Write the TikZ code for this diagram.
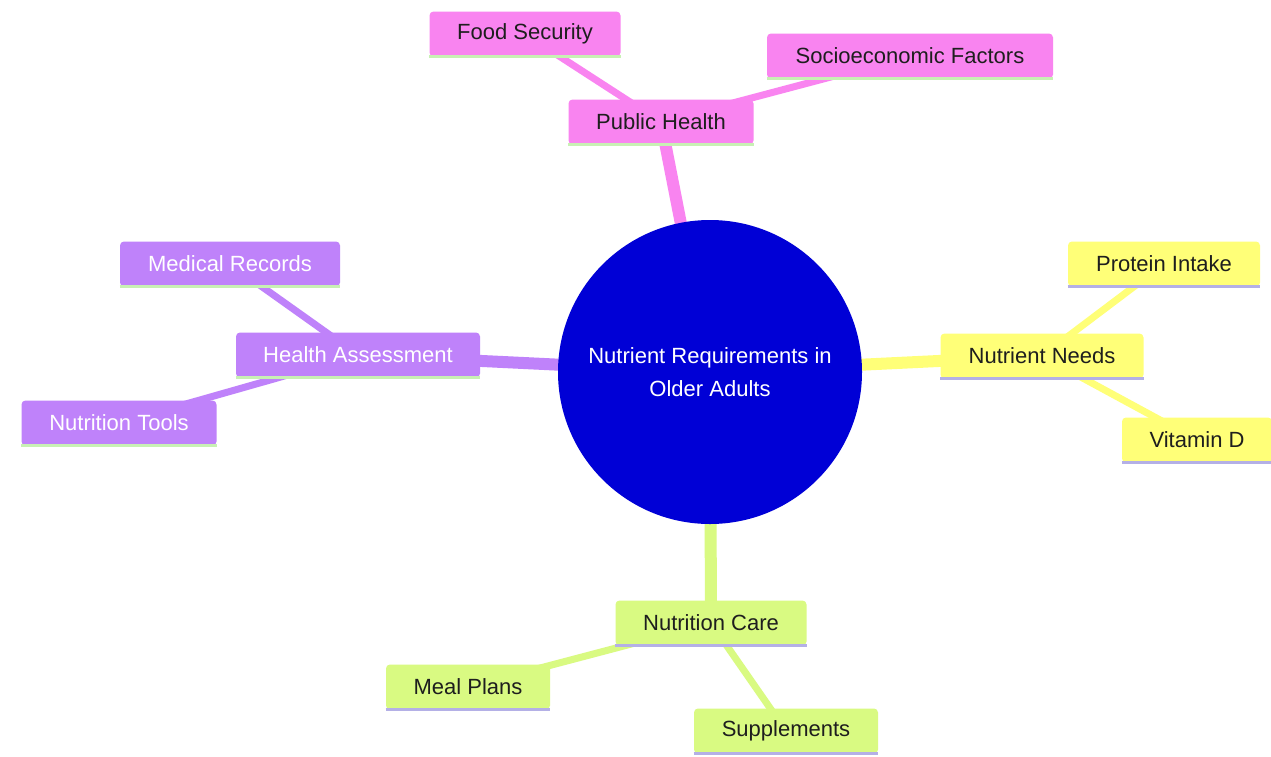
\documentclass[tikz,border=0pt]{standalone}
\usepackage{fontspec}
\setmainfont{Liberation Sans}
\usetikzlibrary{backgrounds}
\definecolor{cpink}{HTML}{F984F0}
\definecolor{cpurple}{HTML}{BF82FA}
\definecolor{cyellow}{HTML}{FFFF78}
\definecolor{cgreen}{HTML}{D9FA82}
\definecolor{cblue}{HTML}{0000D6}
\definecolor{lgreen}{HTML}{C8F0B4}
\definecolor{lavender}{HTML}{B4B0E6}
\definecolor{txtdark}{HTML}{1E1E1E}
\tikzset{
  mm/.style={rectangle, rounded corners=4pt, inner xsep=0pt, inner ysep=0pt,
    minimum height=45pt, font=\fontsize{22}{26}\selectfont, text=txtdark},
  pinkbox/.style={mm, fill=cpink},
  purplebox/.style={mm, fill=cpurple, text=white},
  yellowbox/.style={mm, fill=cyellow},
  greenbox/.style={mm, fill=cgreen},
  trunk/.style={line width=12pt},
  twig/.style={line width=7pt},
  under/.style={line width=3pt},
}
\begin{document}
\begin{tikzpicture}[x=1pt,y=-1pt]
\useasboundingbox (0,0) rectangle (1271,756);
\begin{scope}[on background layer]
\fill[white] (0,0) rectangle (1271,756);
\end{scope}
% nodes
\node[circle, fill=cblue, minimum size=304pt, inner sep=0pt, text=white, align=center,
  font=\fontsize{22}{33}\selectfont] (root) at (710,372) {Nutrient Requirements in\\Older Adults};
\node[pinkbox, minimum width=185pt] (ph) at (661,122) {Public Health};
\node[pinkbox, minimum width=191pt] (fs) at (525,34) {Food Security};
\node[pinkbox, minimum width=286pt] (sf) at (910,56) {Socioeconomic Factors};
\node[purplebox, minimum width=244pt] (ha) at (358,355) {Health Assessment};
\node[purplebox, minimum width=220pt] (mr) at (230,264) {Medical Records};
\node[purplebox, minimum width=195pt] (nt) at (119,423) {Nutrition Tools};
\node[yellowbox, minimum width=203pt] (nn) at (1042,356) {Nutrient Needs};
\node[yellowbox, minimum width=192pt] (pi) at (1164,264) {Protein Intake};
\node[yellowbox, minimum width=150pt] (vd) at (1197,440) {Vitamin D};
\node[greenbox, minimum width=191pt] (nc) at (711,623) {Nutrition Care};
\node[greenbox, minimum width=164pt] (mp) at (468,687) {Meal Plans};
\node[greenbox, minimum width=184pt] (su) at (786,731) {Supplements};
% connectors behind nodes
\begin{scope}[on background layer]
\draw[trunk, cpink] (root.center) -- (ph.center);
\draw[trunk, cpurple] (root.center) -- (ha.center);
\draw[trunk, cyellow] (root.center) -- (nn.center);
\draw[trunk, cgreen] (root.center) -- (nc.center);
\draw[twig, cpink] (ph.center) -- (fs.center);
\draw[twig, cpink] (ph.center) -- (sf.center);
\draw[twig, cpurple] (ha.center) -- (mr.center);
\draw[twig, cpurple] (ha.center) -- (nt.center);
\draw[twig, cyellow] (nn.center) -- (pi.center);
\draw[twig, cyellow] (nn.center) -- (vd.center);
\draw[twig, cgreen] (nc.center) -- (mp.center);
\draw[twig, cgreen] (nc.center) -- (su.center);
\end{scope}
% underlines
\foreach \n in {ph,fs,sf,ha,mr,nt} \draw[under, lgreen] (\n.south west) -- (\n.south east);
\foreach \n in {nn,pi,vd,nc,mp,su} \draw[under, lavender] (\n.south west) -- (\n.south east);
\end{tikzpicture}
\end{document}
